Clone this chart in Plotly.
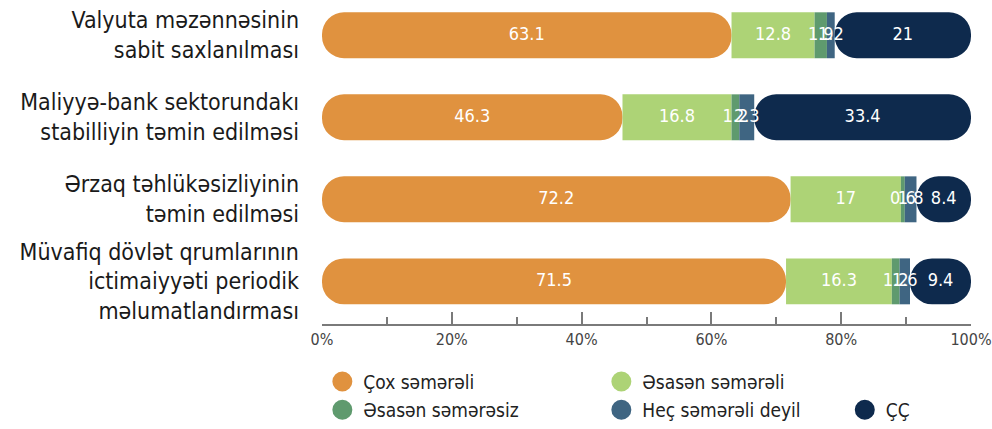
import plotly.graph_objects as go

categorias = [
    'Valyuta məzənnəsinin<br>sabit saxlanılması',
    'Maliyyə-bank sektorundakı<br>stabilliyin təmin edilməsi',
    'Ərzaq təhlükəsizliyinin<br>təmin edilməsi',
    'Müvafiq dövlət qrumlarının<br>ictimaiyyəti periodik<br>məlumatlandırması',
]

cox_semereli = [63.1, 46.3, 72.2, 71.5]
esasen_semereli = [12.8, 16.8, 17, 16.3]
esasen_semeresiz = [1.9, 1.2, 0.6, 1.2]
hec_semereli_deyil = [1.2, 2.3, 1.8, 1.6]
cc = [21, 33.4, 8.4, 9.4]

seriler = [
    ('Çox səmərəli', cox_semereli, '#E0923F'),
    ('Əsasən səmərəli', esasen_semereli, '#ADD376'),
    ('Əsasən səmərəsiz', esasen_semeresiz, '#5F9A6E'),
    ('Heç səmərəli deyil', hec_semereli_deyil, '#3F6582'),
    ('ÇÇ', cc, '#0E2A4D'),
]
# em que linha da legenda fica cada serie
legenda_de = ['legend', 'legend', 'legend2', 'legend2', 'legend3']

fonte = 'DejaVu Sans Condensed, DejaVu Sans, sans-serif'
cinza = '#7a7a7a'

fig = go.Figure()

acumulado = [0, 0, 0, 0]
rot_x, rot_y, rot_txt = [], [], []
for i, (nome, valores, cor) in enumerate(seriler):
    if i == 0:
        # primeiro segmento desenhado "ao contrario" para arredondar a ponta esquerda
        base = list(valores)
        x = [-v for v in valores]
    else:
        base = list(acumulado)
        x = list(valores)
    fig.add_trace(
        go.Bar(
            y=categorias,
            x=x,
            base=base,
            orientation='h',
            width=0.56,
            marker=dict(
                color=cor,
                line=dict(width=0),
                cornerradius='50%' if i in (0, len(seriler) - 1) else 0
            ),
            showlegend=False,
            hoverinfo='skip'
        )
    )
    for a, v, c in zip(acumulado, valores, categorias):
        rot_x.append(a + v / 2)
        rot_y.append(c)
        rot_txt.append(f'{v:g}')
    acumulado = [a + v for a, v in zip(acumulado, valores)]

# rotulos por cima de todas as barras
fig.add_trace(
    go.Scatter(
        x=rot_x, y=rot_y, text=rot_txt,
        mode='text',
        textposition='middle center',
        textfont=dict(color='white', size=18, family=fonte),
        showlegend=False,
        hoverinfo='skip'
    )
)

# entradas da legenda (circulos)
for i, (nome, valores, cor) in enumerate(seriler):
    fig.add_trace(
        go.Scatter(
            x=[None], y=[None],
            mode='markers',
            name=nome,
            marker=dict(symbol='circle', size=16, color=cor,
                        line=dict(color=cor, width=4)),
            legend=legenda_de[i],
            hoverinfo='skip'
        )
    )

eixo_ticks = dict(
    range=[0, 100],
    dtick=20,
    ticks='inside',
    ticklen=12,
    tickwidth=1.5,
    tickcolor=cinza,
    minor=dict(dtick=10, ticks='inside', ticklen=7, tickwidth=1.5,
               tickcolor=cinza),
    showgrid=False,
    zeroline=False,
    ticklabeloverflow='allow',
)

legenda = dict(
    orientation='h',
    x=-0.001, xanchor='left',
    yanchor='middle',
    entrywidth=232, entrywidthmode='pixels',
    itemwidth=32,
    bgcolor='rgba(0,0,0,0)',
    font=dict(size=19, color='#222', family=fonte),
    itemclick=False,
)

fig.update_layout(
    width=992,
    height=429,
    barmode='overlay',
    plot_bgcolor='white',
    paper_bgcolor='white',
    margin=dict(l=322, r=17, t=0, b=104),
    xaxis=dict(
        **eixo_ticks,
        ticksuffix='%',
        showline=True,
        linecolor=cinza,
        linewidth=1.5,
        tickfont=dict(size=16, color='#444', family=fonte),
    ),
    xaxis2=dict(**eixo_ticks, overlaying='x', anchor='free', position=0.745,
                showticklabels=False, showline=False),
    xaxis3=dict(**eixo_ticks, overlaying='x', anchor='free', position=0.494,
                showticklabels=False, showline=False),
    xaxis4=dict(**eixo_ticks, overlaying='x', anchor='free', position=0.243,
                showticklabels=False, showline=False),
    yaxis=dict(
        type='category',
        categoryorder='array',
        categoryarray=categorias,
        range=[3.52, -0.43],
        showgrid=False,
        zeroline=False,
        showline=False,
        ticks='',
        ticklabelstandoff=22,
        tickfont=dict(size=23, color='#1a1a1a', family=fonte),
    ),
    legend=dict(legenda, y=-0.178),
    legend2=dict(legenda, y=-0.265),
    legend3=dict(legenda, y=-0.265, x=0.804, entrywidth=40),
)

fig.write_html('out.html',
               config={'displayModeBar': False},
               post_script="document.body.style.margin='0';")
